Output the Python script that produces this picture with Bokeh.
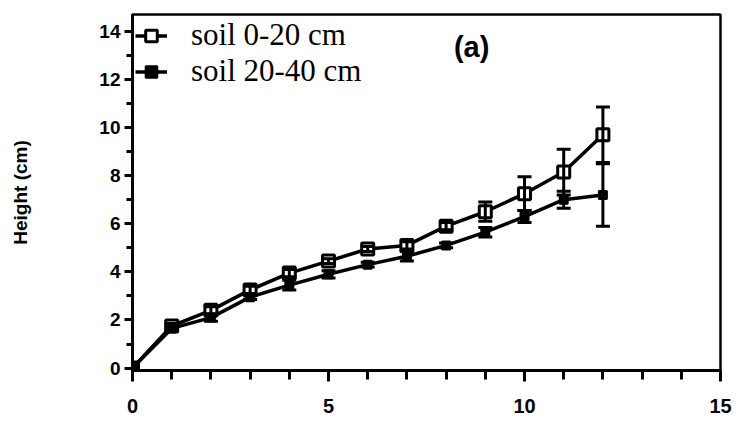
from bokeh.plotting import figure
from bokeh.models import (ColumnDataSource, Range1d, Whisker, TeeHead, Legend,
                          LegendItem, Label, FixedTicker)
from bokeh.embed import file_html
from bokeh.resources import INLINE

# Weeks after sowing
weeks = [0, 1, 2, 3, 4, 5, 6, 7, 8, 9, 10, 11, 12]

# Plant height (cm), mean and standard error per soil layer
height_0_20 = [0, 1.75, 2.4, 3.25, 3.95, 4.45, 4.95, 5.1, 5.9, 6.5, 7.25, 8.15, 9.7]
err_0_20 = [0, 0.1, 0.15, 0.15, 0.15, 0.1, 0.1, 0.15, 0.15, 0.4, 0.7, 0.95, 1.15]

height_20_40 = [0, 1.65, 2.1, 2.95, 3.45, 3.9, 4.3, 4.65, 5.1, 5.65, 6.3, 7.0, 7.2]
err_20_40 = [0, 0.1, 0.15, 0.1, 0.2, 0.15, 0.1, 0.2, 0.1, 0.2, 0.25, 0.35, 1.3]

series_names = ["soil 0-20 cm", "soil 20-40 cm"]
x_ticks = [0, 5, 10, 15]
x_minor = list(range(0, 16))
y_ticks = [0, 2, 4, 6, 8, 10, 12, 14]
y_minor = list(range(0, 15))
panel_tag = "(a)"
y_title = "Height (cm)"

src1 = ColumnDataSource(dict(
    x=weeks, y=height_0_20,
    lo=[v - e for v, e in zip(height_0_20, err_0_20)],
    hi=[v + e for v, e in zip(height_0_20, err_0_20)]))
src2 = ColumnDataSource(dict(
    x=weeks, y=height_20_40,
    lo=[v - e for v, e in zip(height_20_40, err_20_40)],
    hi=[v + e for v, e in zip(height_20_40, err_20_40)]))

p = figure(width=740, height=425, output_backend="svg", toolbar_location=None,
           x_range=Range1d(0, 15), y_range=Range1d(-0.1, 14.7),
           min_border_left=132, min_border_right=20, min_border_top=14,
           min_border_bottom=55)
p.xgrid.visible = False
p.ygrid.visible = False
p.outline_line_color = "black"
p.outline_line_width = 2.5
p.background_fill_color = "white"
p.border_fill_color = "white"

p.xaxis.ticker = FixedTicker(ticks=x_ticks, minor_ticks=x_minor)
p.yaxis.ticker = FixedTicker(ticks=y_ticks, minor_ticks=y_minor)

for ax in (p.xaxis, p.yaxis):
    ax.axis_line_width = 3
    ax.axis_line_color = "black"
    ax.major_tick_line_width = 3
    ax.minor_tick_line_width = 3
    ax.major_tick_line_color = "black"
    ax.minor_tick_line_color = "black"
    ax.major_tick_in = 0
    ax.minor_tick_in = 0
    ax.major_label_text_font = "Liberation Sans"
    ax.major_label_text_font_style = "bold"
    ax.major_label_text_color = "black"

p.xaxis.major_tick_out = 11
p.xaxis.minor_tick_out = 9
p.xaxis.major_label_text_font_size = "20px"
p.xaxis.major_label_standoff = 17

p.yaxis.major_tick_out = 8
p.yaxis.minor_tick_out = 6
p.yaxis.major_label_text_font_size = "19px"
p.yaxis.major_label_standoff = 4
p.yaxis.axis_label = y_title
p.yaxis.axis_label_text_font = "Liberation Sans"
p.yaxis.axis_label_text_font_style = "bold"
p.yaxis.axis_label_text_font_size = "19px"
p.yaxis.axis_label_text_color = "black"
p.yaxis.axis_label_standoff = 65

# Error bars
for src in (src1, src2):
    w = Whisker(base="x", lower="lo", upper="hi", source=src,
                line_width=3, line_color="black",
                upper_head=TeeHead(size=14, line_width=3, line_color="black"),
                lower_head=TeeHead(size=14, line_width=3, line_color="black"))
    w.level = "glyph"
    p.add_layout(w)

l1 = p.line("x", "y", source=src1, line_width=3.5, line_color="black")
m1 = p.scatter("x", "y", source=src1, marker="square", size=12,
               fill_color="white", line_color="black", line_width=3)
l2 = p.line("x", "y", source=src2, line_width=3.5, line_color="black")
m2 = p.scatter("x", "y", source=src2, marker="square", size=8,
               fill_color="black", line_color="black", line_width=2)

legend = Legend(items=[LegendItem(label=series_names[0], renderers=[l1, m1]),
                       LegendItem(label=series_names[1], renderers=[l2, m2])],
                location="top_left", margin=0, padding=3, spacing=0,
                glyph_width=32, glyph_height=29, label_height=29,
                label_standoff=24, label_text_font="Liberation Serif",
                label_text_font_size="31px", label_text_color="black",
                label_text_baseline="middle",
                background_fill_alpha=0, border_line_alpha=0)
p.add_layout(legend)

p.add_layout(Label(x=8.2, y=13.36, text=panel_tag, text_font="Liberation Sans",
                   text_font_style="bold", text_font_size="29px",
                   text_baseline="middle", text_color="black"))

open("out.html", "w").write(file_html(p, INLINE))
